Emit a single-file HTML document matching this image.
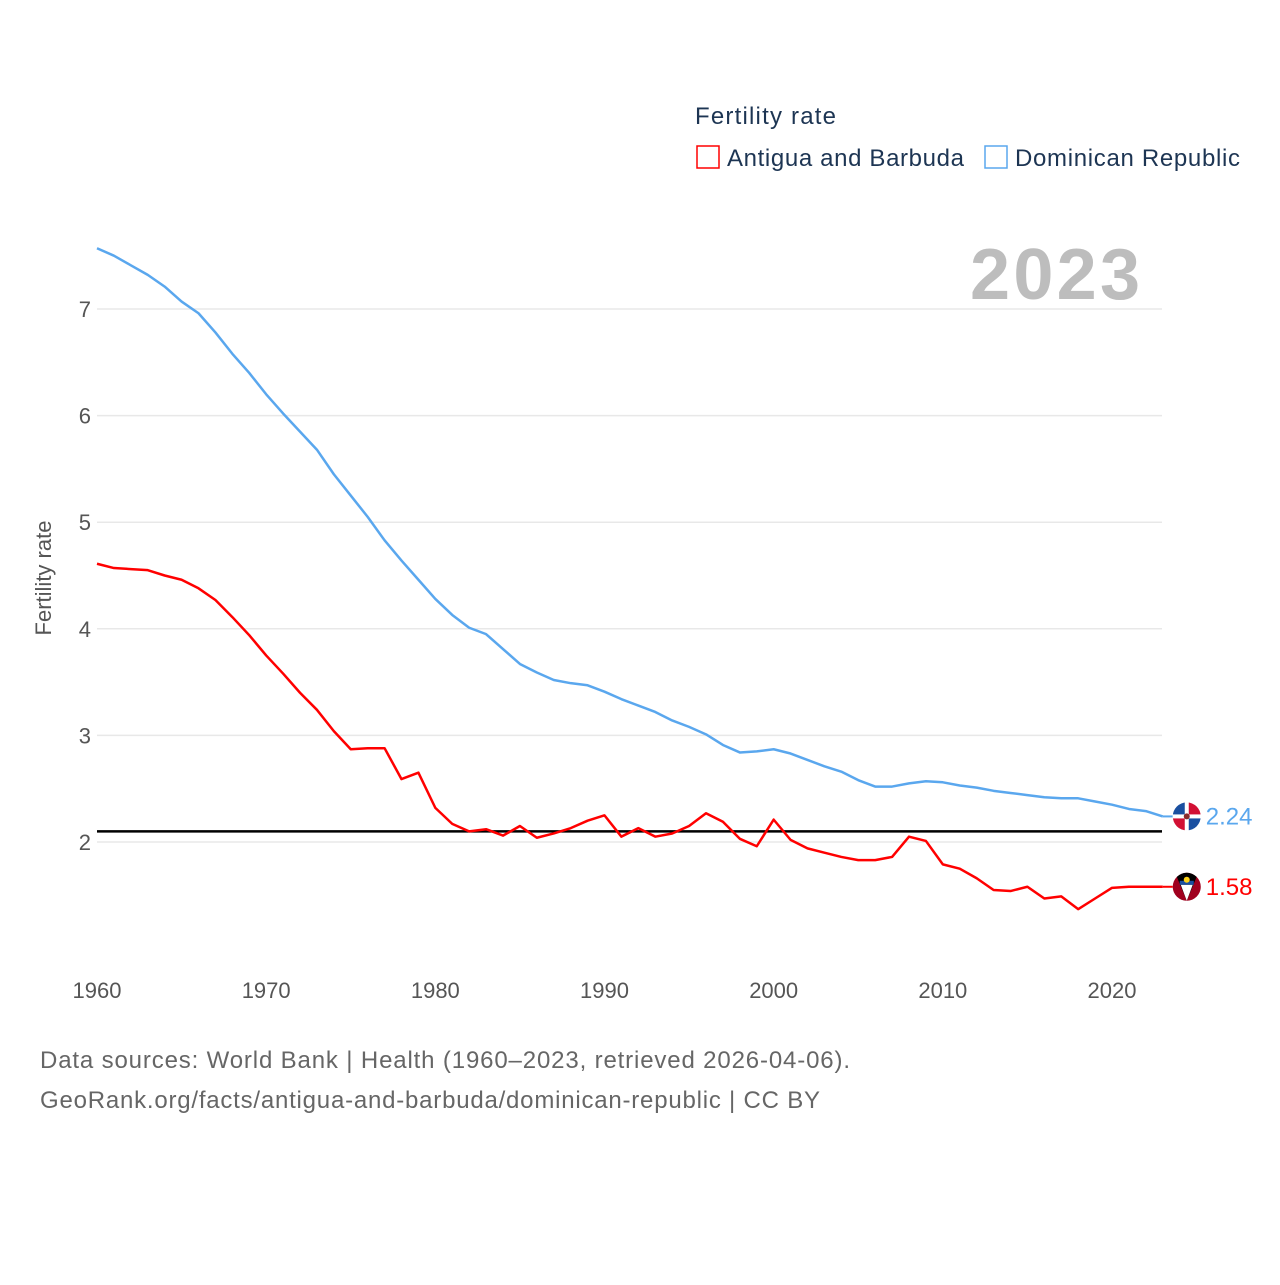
<!DOCTYPE html>
<html><head><meta charset="utf-8"><style>
body{margin:0;background:#fff;font-family:"Liberation Sans",sans-serif;}
svg text{font-family:"Liberation Sans",sans-serif;}
</style></head><body>
<svg id="chart" width="1280" height="1280" viewBox="0 0 1280 1280">
<defs>
<clipPath id="c1"><circle cx="0" cy="0" r="14"/></clipPath>
</defs>
<text x="695" y="124" font-size="24" fill="#1d3553" textLength="141">Fertility rate</text>
<g><rect x="697" y="146" width="22" height="22" fill="none" stroke="#f00" stroke-width="1.5"/><text x="727" y="166" font-size="24" fill="#1d3553" textLength="237">Antigua and Barbuda</text></g>
<g><rect x="985" y="146" width="22" height="22" fill="none" stroke="#5aa7ee" stroke-width="1.5"/><text x="1015" y="166" font-size="24" fill="#1d3553" textLength="225">Dominican Republic</text></g>
<text x="1140" y="299" font-size="72" font-weight="bold" fill="#bdbdbd" text-anchor="end" textLength="170">2023</text>
<text transform="translate(51,578) rotate(-90)" font-size="22" fill="#555" text-anchor="middle">Fertility rate</text>
<g id="grid"></g><g id="lines"></g>
<text x="40" y="1068" font-size="24" fill="#666" textLength="810">Data sources: World Bank | Health (1960–2023, retrieved 2026-04-06).</text>
<text x="40" y="1108" font-size="24" fill="#666" textLength="780">GeoRank.org/facts/antigua-and-barbuda/dominican-republic | CC BY</text>
</svg>
<script>
const years=[];for(let y=1960;y<=2023;y++)years.push(y);
const dominican=[7.57,7.50,7.41,7.32,7.21,7.07,6.96,6.78,6.58,6.40,6.20,6.02,5.85,5.68,5.45,5.25,5.05,4.83,4.64,4.46,4.28,4.13,4.01,3.95,3.81,3.67,3.59,3.52,3.49,3.47,3.41,3.34,3.28,3.22,3.14,3.08,3.01,2.91,2.84,2.85,2.87,2.83,2.77,2.71,2.66,2.58,2.52,2.52,2.55,2.57,2.56,2.53,2.51,2.48,2.46,2.44,2.42,2.41,2.41,2.38,2.35,2.31,2.29,2.24];
const antigua=[4.61,4.57,4.56,4.55,4.50,4.46,4.38,4.27,4.11,3.94,3.75,3.58,3.40,3.24,3.04,2.87,2.88,2.88,2.59,2.65,2.32,2.17,2.10,2.12,2.06,2.15,2.04,2.08,2.13,2.20,2.25,2.05,2.13,2.05,2.08,2.15,2.27,2.19,2.03,1.96,2.21,2.02,1.94,1.90,1.86,1.83,1.83,1.86,2.05,2.01,1.79,1.75,1.66,1.55,1.54,1.58,1.47,1.49,1.37,1.47,1.57,1.58,1.58,1.58];
const yTicks=[2,3,4,5,6,7];
const xTicks=[1960,1970,1980,1990,2000,2010,2020];
const replacement=2.1;
const NS='http://www.w3.org/2000/svg';
const xs=y=>97+(y-1960)*(1015/60);
const ys=v=>842-(v-2)*106.6;
const grid=document.getElementById('grid'),lines=document.getElementById('lines');
function mk(tag,attrs,parent){const e=document.createElementNS(NS,tag);for(const k in attrs)e.setAttribute(k,attrs[k]);parent.appendChild(e);return e;}
yTicks.forEach(t=>{
 const l=mk('line',{x1:97,x2:1162,y1:ys(t),y2:ys(t),stroke:'#e8e8e8','stroke-width':1.5},grid);
 
 
 const tx=mk('text',{x:91,y:ys(t)+8,'font-size':22,fill:'#555','text-anchor':'end'},grid);tx.textContent=t;
 
 
});
xTicks.forEach(t=>{
 const tx=mk('text',{x:xs(t),y:998,'font-size':22,fill:'#555','text-anchor':'middle'},grid);tx.textContent=t;
 
 
});
const rl=mk('line',{x1:97,x2:1162,y1:ys(replacement),y2:ys(replacement),stroke:'#000','stroke-width':2.5},lines);


function flag(g,kind){
 if(kind==='dr'){
  mk('rect',{x:-15,y:-15,width:30,height:30,fill:'#fff'},g);
  mk('rect',{x:-15,y:-15,width:13,height:13,fill:'#1a4fa0'},g);
  mk('rect',{x:2,y:-15,width:13,height:13,fill:'#d21034'},g);
  mk('rect',{x:-15,y:2,width:13,height:13,fill:'#d21034'},g);
  mk('rect',{x:2,y:2,width:13,height:13,fill:'#1a4fa0'},g);
  mk('circle',{cx:0,cy:0,r:3,fill:'#8a2b2b'},g);
 } else {
  mk('rect',{x:-15,y:-15,width:30,height:30,fill:'#a0001e'},g);
  mk('polygon',{points:'-12,-15 12,-15 0,14',fill:'#000'},g);
  mk('polygon',{points:'-6,-2 6,-2 0,14',fill:'#fff'},g);
  mk('rect',{x:-7,y:-6,width:14,height:4,fill:'#1a4fa0'},g);
  mk('circle',{cx:0,cy:-7,r:3,fill:'#fcd116'},g);
 }
}
function series(vals,color,name,kind){
 const p=mk('polyline',{points:vals.map((v,i)=>xs(years[i])+','+ys(v)).join(' '),fill:'none',stroke:color,'stroke-width':2.5,'stroke-linejoin':'round'},lines);
 
 
 const last=vals[vals.length-1],lx=xs(years[years.length-1]);
 mk('line',{x1:lx,x2:lx+10,y1:ys(last),y2:ys(last),stroke:color,'stroke-width':2},lines);
 const g=mk('g',{transform:'translate('+(lx+24)+','+ys(last)+')','clip-path':'url(#c1)'},lines);
 
 
 flag(g,kind);
 const t=mk('text',{x:lx+43,y:ys(last)+8,'font-size':24,fill:color},lines);t.textContent=last.toFixed(2);
 
 
}
series(dominican,'#5aa7ee','dominican','dr');
series(antigua,'#f00','antigua','ag');
</script>
</body></html>
